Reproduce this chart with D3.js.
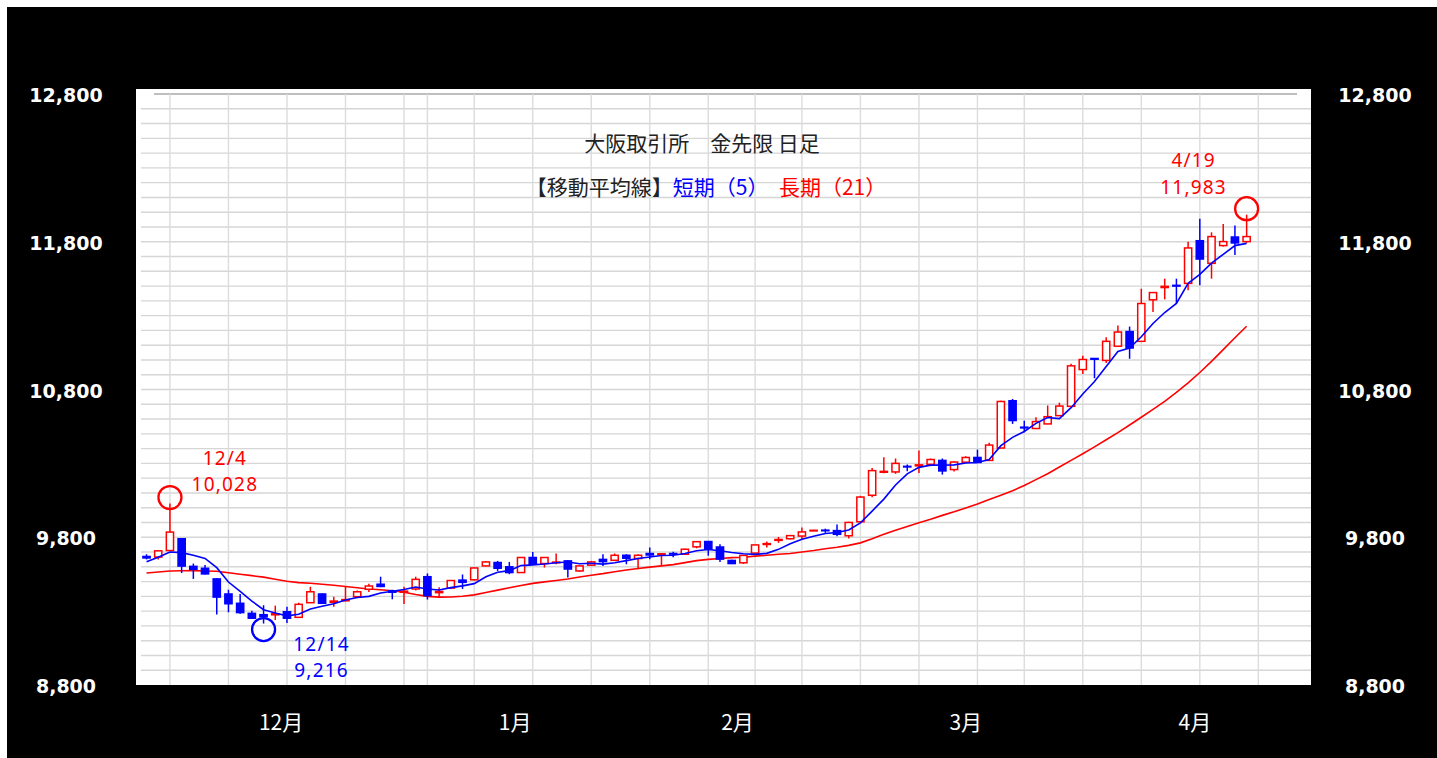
<!DOCTYPE html>
<html>
<head>
<meta charset="utf-8">
<script src="https://cdn.jsdelivr.net/npm/d3@7"></script>
<style>
  body { margin: 0; background: #fff; }
  text { font-family: "Noto Sans CJK JP", "Noto Sans", sans-serif; }
</style>
</head>
<body>
<svg id="chart"></svg>
<script>
// trading days, 11/30 .. 4/19
const dates = [
  "2023-11-30","2023-12-01","2023-12-04","2023-12-05","2023-12-06","2023-12-07","2023-12-08",
  "2023-12-11","2023-12-12","2023-12-13","2023-12-14","2023-12-15","2023-12-18","2023-12-19",
  "2023-12-20","2023-12-21","2023-12-22","2023-12-25","2023-12-26","2023-12-27","2023-12-28",
  "2023-12-29","2024-01-04","2024-01-05","2024-01-09","2024-01-10","2024-01-11","2024-01-12",
  "2024-01-15","2024-01-16","2024-01-17","2024-01-18","2024-01-19","2024-01-22","2024-01-23",
  "2024-01-24","2024-01-25","2024-01-26","2024-01-29","2024-01-30","2024-01-31","2024-02-01",
  "2024-02-02","2024-02-05","2024-02-06","2024-02-07","2024-02-08","2024-02-09","2024-02-13",
  "2024-02-14","2024-02-15","2024-02-16","2024-02-19","2024-02-20","2024-02-21","2024-02-22",
  "2024-02-26","2024-02-27","2024-02-28","2024-02-29","2024-03-01","2024-03-04","2024-03-05",
  "2024-03-06","2024-03-07","2024-03-08","2024-03-11","2024-03-12","2024-03-13","2024-03-14",
  "2024-03-15","2024-03-18","2024-03-19","2024-03-21","2024-03-22","2024-03-25","2024-03-26",
  "2024-03-27","2024-03-28","2024-03-29","2024-04-01","2024-04-02","2024-04-03","2024-04-04",
  "2024-04-05","2024-04-08","2024-04-09","2024-04-10","2024-04-11","2024-04-12","2024-04-15",
  "2024-04-16","2024-04-17","2024-04-18","2024-04-19"
];

const opens = [
  9670, 9666, 9710, 9790, 9603, 9590, 9518, 9416, 9353, 9285,
  9276, 9275, 9296, 9258, 9357, 9416, 9360, 9370, 9398, 9448,
  9482, 9438, 9428, 9450, 9533, 9425, 9456, 9510, 9512, 9606,
  9629, 9600, 9561, 9663, 9622, 9628, 9640, 9572, 9611, 9650,
  9644, 9678, 9656, 9690, 9683, 9690, 9685, 9735, 9771, 9734,
  9643, 9627, 9693, 9751, 9779, 9790, 9808, 9845, 9848, 9845,
  9810, 9905, 10084, 10240, 10242, 10280, 10283, 10294, 10320, 10258,
  10308, 10340, 10320, 10404, 10724, 10545, 10536, 10567, 10623, 10686,
  10935, 11010, 10997, 11093, 11192, 11126, 11407, 11490, 11505, 11518,
  11807, 11654, 11774, 11832, 11801
];
const highs = [
  9685, 9712, 10028, 9795, 9622, 9612, 9522, 9445, 9416, 9303,
  9340, 9337, 9330, 9357, 9465, 9420, 9398, 9470, 9440, 9485,
  9533, 9445, 9465, 9533, 9555, 9462, 9510, 9548, 9595, 9640,
  9640, 9633, 9665, 9700, 9665, 9690, 9645, 9610, 9640, 9685,
  9690, 9685, 9685, 9730, 9690, 9702, 9722, 9775, 9775, 9752,
  9648, 9680, 9750, 9772, 9802, 9815, 9866, 9850, 9858, 9886,
  9905, 10080, 10269, 10342, 10333, 10292, 10387, 10333, 10333, 10315,
  10348, 10393, 10440, 10724, 10736, 10589, 10612, 10692, 10711, 10974,
  11029, 11010, 11154, 11234, 11226, 11482, 11458, 11550, 11550, 11800,
  11955, 11864, 11920, 11910, 11983
];
const lows = [
  9650, 9650, 9708, 9558, 9518, 9548, 9277, 9292, 9283, 9248,
  9216, 9240, 9220, 9255, 9355, 9350, 9330, 9365, 9390, 9430,
  9462, 9380, 9348, 9440, 9378, 9392, 9452, 9450, 9508, 9603,
  9572, 9550, 9558, 9615, 9595, 9617, 9527, 9565, 9605, 9606,
  9640, 9617, 9584, 9651, 9612, 9664, 9682, 9725, 9675, 9632,
  9618, 9620, 9688, 9730, 9762, 9785, 9785, 9842, 9830, 9807,
  9792, 9900, 10071, 10234, 10229, 10247, 10235, 10281, 10224, 10245,
  10303, 10303, 10318, 10400, 10567, 10510, 10533, 10565, 10620, 10682,
  10905, 10876, 10980, 11090, 11008, 11124, 11325, 11410, 11382, 11472,
  11506, 11550, 11768, 11710, 11792
];
const closes = [
  9660, 9708, 9835, 9605, 9583, 9552, 9395, 9350, 9290, 9252,
  9262, 9282, 9252, 9346, 9431, 9353, 9368, 9378, 9431, 9470,
  9467, 9428, 9435, 9515, 9405, 9433, 9507, 9495, 9592, 9633,
  9590, 9561, 9663, 9618, 9663, 9632, 9585, 9606, 9633, 9635,
  9678, 9658, 9678, 9680, 9688, 9686, 9719, 9770, 9720, 9652,
  9622, 9677, 9748, 9757, 9785, 9811, 9836, 9847, 9844, 9820,
  9900, 10072, 10251, 10246, 10300, 10276, 10290, 10326, 10249, 10309,
  10340, 10306, 10424, 10719, 10590, 10540, 10583, 10616, 10688, 10960,
  11003, 11005, 11126, 11189, 11081, 11382, 11456, 11498, 11500, 11758,
  11683, 11835, 11801, 11792, 11835
];

// moving averages
const ma5 = [
  9634, 9665, 9700, 9696, 9678, 9657, 9594, 9497, 9434, 9368,
  9310, 9287, 9268, 9279, 9315, 9333, 9350, 9375, 9392, 9400,
  9423, 9435, 9446, 9463, 9450, 9443, 9459, 9471, 9486, 9532,
  9563, 9574, 9608, 9613, 9619, 9627, 9632, 9621, 9624, 9618,
  9627, 9642, 9656, 9666, 9676, 9678, 9690, 9709, 9717, 9709,
  9697, 9688, 9684, 9691, 9718, 9756, 9787, 9807, 9825, 9832,
  9849, 9897, 9977, 10058, 10154, 10229, 10273, 10288, 10288, 10290,
  10303, 10306, 10326, 10420, 10476, 10516, 10571, 10610, 10603, 10677,
  10770, 10854, 10956, 11057, 11081, 11157, 11247, 11321, 11383, 11519,
  11579, 11655, 11715, 11774, 11789
];
const ma21 = [
  9558, 9565, 9572, 9573, 9574, 9572, 9570, 9560, 9550, 9540,
  9530, 9516, 9502, 9493, 9489, 9482, 9475, 9467, 9458, 9450,
  9445, 9438, 9428, 9412, 9400, 9395, 9396, 9401, 9410, 9426,
  9442, 9458, 9474, 9488, 9498, 9507, 9517, 9531, 9543, 9554,
  9567, 9578, 9589, 9598, 9606, 9615, 9628, 9642, 9650, 9656,
  9662, 9665, 9672, 9678, 9685, 9690, 9700, 9710, 9722, 9732,
  9745, 9762, 9790, 9820, 9848, 9873, 9898, 9922, 9948, 9972,
  9998, 10025, 10055, 10085, 10115, 10150, 10190, 10230, 10275, 10320,
  10365, 10412, 10460, 10508, 10560, 10612, 10665, 10720, 10780, 10845,
  10915, 10990, 11070, 11150, 11228
];

const yTicks = [8800, 9800, 10800, 11800, 12800];
const monthNames = { 12: "12月", 1: "1月", 2: "2月", 3: "3月", 4: "4月" };
const highMarks = ["2023-12-04", "2024-04-19"];
const lowMarks = ["2023-12-14"];

const titleText = "大阪取引所　金先限 日足";
const legendParts = [
  { text: "【移動平均線】", color: "#222" },
  { text: "短期（5）", color: "#0000ff" },
  { text: "　長期（21）", color: "#ff0000" }
];

// ---------------------------------------------------------------
const W = 1437, H = 758;
const plot = { left: 136, right: 1311, top: 89, bottom: 685 };
const RED = "#ff0000", BLUE = "#0000ff";

const parse = d3.timeParse("%Y-%m-%d");
const data = dates.map((d, i) => ({
  i, date: parse(d), o: opens[i], h: highs[i], l: lows[i], c: closes[i]
}));

const svg = d3.select('#chart')
  .attr('width', W)
  .attr('height', H)
  .attr('viewBox', [0, 0, W, H]);

svg.append('rect')
  .attr('x', 7).attr('y', 7)
  .attr('width', W - 7).attr('height', H - 7)
  .attr('fill', '#000');

svg.append('rect')
  .attr('x', plot.left).attr('y', plot.top)
  .attr('width', plot.right - plot.left).attr('height', plot.bottom - plot.top)
  .attr('fill', '#fff');

const x = d3.scaleLinear()
  .domain([-0.9, 99.5])
  .range([plot.left, plot.right]);
const y = d3.scaleLinear()
  .domain([8800, 12800])
  .range([plot.bottom, 94]);

// horizontal grid every 100
svg.append('g')
  .selectAll('line')
  .data(d3.range(8900, 12800, 100))
  .join('line')
    .attr('x1', plot.left + 5)
    .attr('x2', plot.right)
    .attr('y1', d => y(d))
    .attr('y2', d => y(d))
    .attr('stroke', '#d6d6d6')
    .attr('stroke-width', 1.4);

svg.append('line')
  .attr('x1', 154).attr('x2', 1297)
  .attr('y1', y(12800)).attr('y2', y(12800))
  .attr('stroke', '#a8a8a8')
  .attr('stroke-width', 1.5);

// vertical grid at the first trading day of each week
const weekStarts = data.filter((d, i) => i > 0 &&
  (d.date.getDay() <= data[i - 1].date.getDay() || d.date - data[i - 1].date > 6 * 864e5)).map(d => d.i);
if (data[data.length - 1].date.getDay() === 5) weekStarts.push(data.length);

svg.append('g')
  .selectAll('line')
  .data(weekStarts)
  .join('line')
    .attr('x1', d => x(d))
    .attr('x2', d => x(d))
    .attr('y1', y(12800))
    .attr('y2', plot.bottom)
    .attr('stroke', '#dcdcdc')
    .attr('stroke-width', 1.4);

// y labels both sides
const yLab = svg.append('g')
  .attr('fill', '#fff')
  .attr('font-size', 19)
  .attr('font-weight', 'bold')
  .attr('text-anchor', 'middle');
yLab.selectAll('.yl')
  .data(yTicks)
  .join('text')
    .attr('class', 'yl')
    .attr('x', 66)
    .attr('y', d => y(d) + 8)
    .style('font-family', '"DejaVu Sans", Verdana, sans-serif')
    .text(d3.format(','));
yLab.selectAll('.yr')
  .data(yTicks)
  .join('text')
    .attr('class', 'yr')
    .attr('x', 1375)
    .attr('y', d => y(d) + 8)
    .style('font-family', '"DejaVu Sans", Verdana, sans-serif')
    .text(d3.format(','));

// month labels centred between month starts
const monthStarts = data.filter((d, i) => i > 0 && d.date.getMonth() !== data[i - 1].date.getMonth());
const months = monthStarts.map((d, k) => ({
  label: monthNames[d.date.getMonth() + 1],
  pos: (x(d.i) + (k + 1 < monthStarts.length ? x(monthStarts[k + 1].i) : plot.right - 4)) / 2
}));
svg.append('g')
  .selectAll('text')
  .data(months)
  .join('text')
    .attr('x', d => d.pos)
    .attr('y', 730)
    .attr('text-anchor', 'middle')
    .attr('fill', '#fff')
    .attr('font-size', 21)
    .text(d => d.label);

// moving averages
const lineGen = vals => d3.line()
  .x((v, i) => x(i))
  .y(v => y(v))(vals);

svg.append('path')
  .attr('d', lineGen(ma21))
  .attr('fill', 'none')
  .attr('stroke', RED)
  .attr('stroke-width', 1.6);

// candles
const cg = svg.append('g');
cg.selectAll('.wick')
  .data(data)
  .join('line')
    .attr('class', 'wick')
    .attr('x1', d => x(d.i)).attr('x2', d => x(d.i))
    .attr('y1', d => y(d.h)).attr('y2', d => y(d.l))
    .attr('stroke', d => d.c >= d.o ? RED : BLUE)
    .attr('stroke-width', 1.5);
cg.selectAll('.body')
  .data(data)
  .join('rect')
    .attr('class', 'body')
    .attr('x', d => x(d.i) - 3.6)
    .attr('width', 7.2)
    .attr('y', d => y(Math.max(d.o, d.c)))
    .attr('height', d => Math.max(0.6, Math.abs(y(d.o) - y(d.c))))
    .attr('fill', d => d.c >= d.o ? '#fff' : BLUE)
    .attr('stroke', d => d.c >= d.o ? RED : BLUE)
    .attr('stroke-width', 1.5);

svg.append('path')
  .attr('d', lineGen(ma5))
  .attr('fill', 'none')
  .attr('stroke', BLUE)
  .attr('stroke-width', 1.6);

// marked highs / lows
const fmtDate = d3.timeFormat('%-m/%-d');
const fmtNum = d3.format(',');
const marks = [
  ...data.filter(d => highMarks.includes(dates[d.i])).map(d => ({ d, v: d.h, color: RED, off: -6 })),
  ...data.filter(d => lowMarks.includes(dates[d.i])).map(d => ({ d, v: d.l, color: BLUE, off: 6 }))
];
// label placement relative to circle
const labelOffset = m => m.off > 0 ? { dx: 58, dy: 21 }
  : (m.d.i > data.length / 2 ? { dx: -53, dy: -41.5 } : { dx: 55, dy: -33 });

const mg = svg.append('g');
marks.forEach(m => {
  const cx = x(m.d.i), cy = y(m.v) + m.off;
  const lo = labelOffset(m);
  mg.append('circle')
    .attr('cx', cx).attr('cy', cy).attr('r', 11.5)
    .attr('fill', 'none')
    .attr('stroke', m.color)
    .attr('stroke-width', 2.3);
  const t = mg.append('text')
    .attr('y', cy + lo.dy)
    .attr('text-anchor', 'middle')
    .attr('fill', m.color)
    .attr('font-size', 19)
    .attr('letter-spacing', 1.2)
    .style('font-family', '"Noto Sans", sans-serif');
  t.append('tspan')
    .attr('x', cx + lo.dx)
    .text(fmtDate(m.d.date));
  t.append('tspan')
    .attr('x', cx + lo.dx)
    .attr('dy', 26.5)
    .text(fmtNum(m.v));
});

// title + legend
svg.append('text')
  .attr('x', 702).attr('y', 151)
  .attr('text-anchor', 'middle')
  .attr('fill', '#222')
  .attr('font-size', 21)
  .text(titleText);

svg.append('text')
  .attr('x', 706).attr('y', 195)
  .attr('text-anchor', 'middle')
  .attr('font-size', 21)
  .selectAll('tspan')
  .data(legendParts)
  .join('tspan')
    .attr('fill', d => d.color)
    .text(d => d.text);
</script>
</body>
</html>
